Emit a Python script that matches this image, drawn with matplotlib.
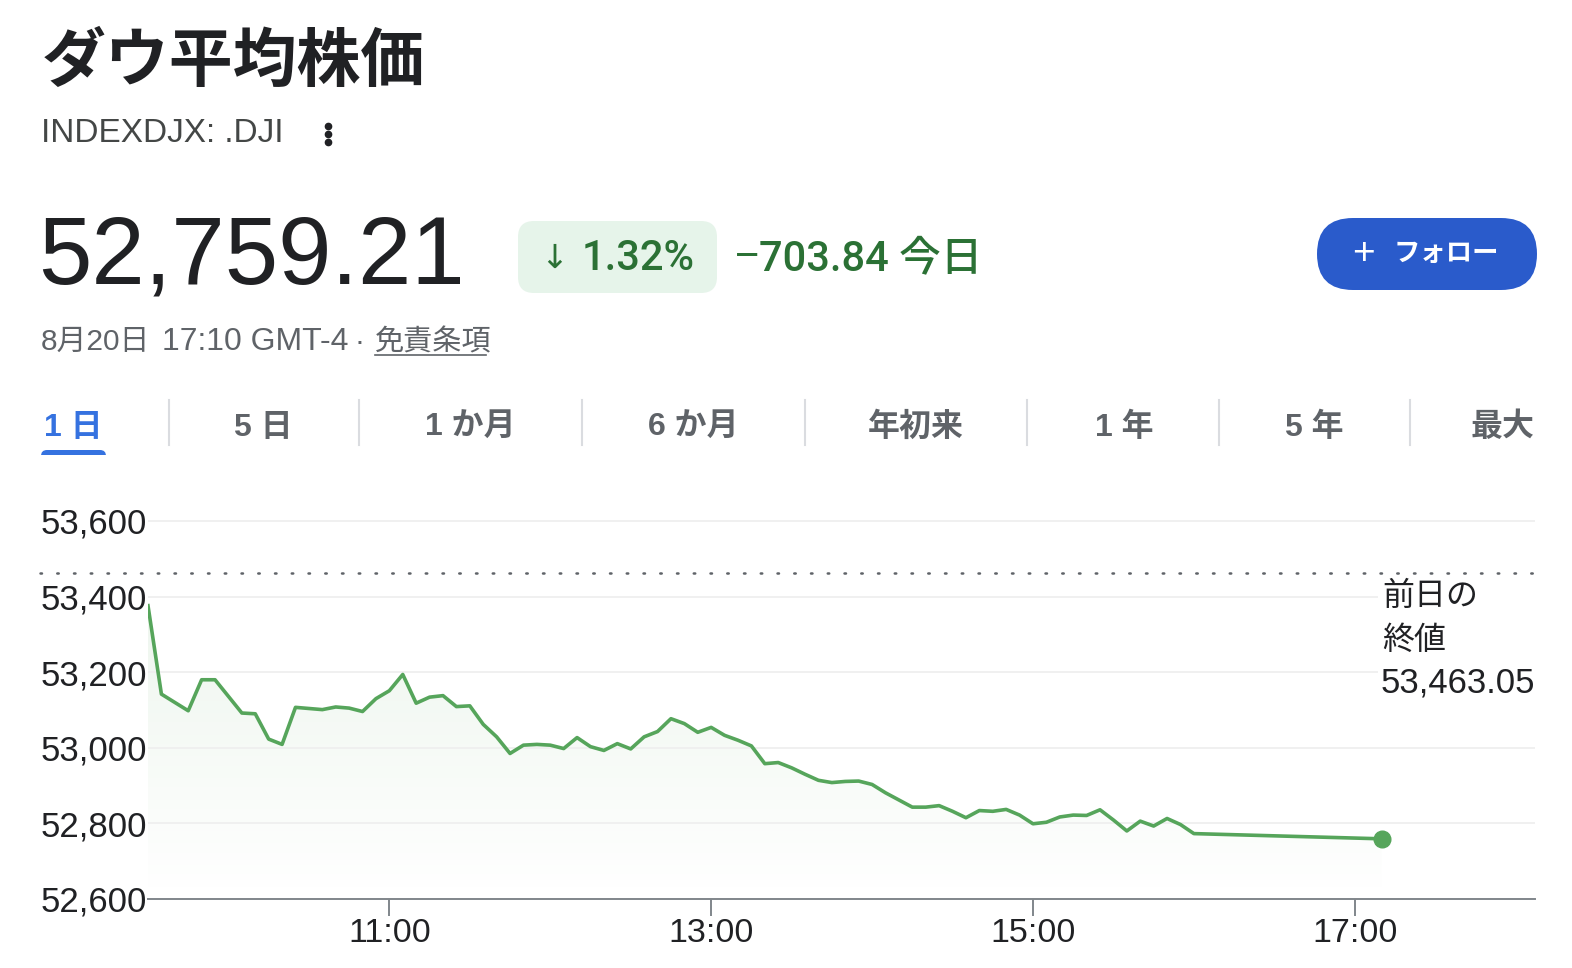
import matplotlib
matplotlib.use("Agg")
import matplotlib.pyplot as plt
import numpy as np
from matplotlib.patches import FancyBboxPatch, Rectangle

plt.rcParams['font.family'] = ['Liberation Sans', 'Noto Sans CJK JP', 'DejaVu Sans']

W, H = 1572, 968

# --- data (5 minute steps, last point after close) ---
times = ["09:30", "09:35", "09:40", "09:45", "09:50", "09:55",
         "10:00", "10:05", "10:10", "10:15", "10:20", "10:25",
         "10:30", "10:35", "10:40", "10:45", "10:50", "10:55",
         "11:00", "11:05", "11:10", "11:15", "11:20", "11:25",
         "11:30", "11:35", "11:40", "11:45", "11:50", "11:55",
         "12:00", "12:05", "12:10", "12:15", "12:20", "12:25",
         "12:30", "12:35", "12:40", "12:45", "12:50", "12:55",
         "13:00", "13:05", "13:10", "13:15", "13:20", "13:25",
         "13:30", "13:35", "13:40", "13:45", "13:50", "13:55",
         "14:00", "14:05", "14:10", "14:15", "14:20", "14:25",
         "14:30", "14:35", "14:40", "14:45", "14:50", "14:55",
         "15:00", "15:05", "15:10", "15:15", "15:20", "15:25",
         "15:30", "15:35", "15:40", "15:45", "15:50", "15:55",
         "16:00", "17:10"]
prices = [53376, 53142, 53120, 53098, 53180, 53180,
          53136, 53092, 53090, 53023, 53009, 53107,
          53104, 53101, 53108, 53105, 53096, 53130,
          53151, 53194, 53118, 53134, 53138, 53109,
          53111, 53062, 53029, 52985, 53007, 53009,
          53007, 52998, 53027, 53003, 52993, 53011,
          52997, 53029, 53043, 53077, 53064, 53041,
          53054, 53033, 53020, 53005, 52958, 52961,
          52947, 52930, 52914, 52908, 52911, 52912,
          52903, 52881, 52862, 52843, 52843, 52847,
          52832, 52815, 52834, 52832, 52837, 52822,
          52799, 52803, 52817, 52822, 52821, 52836,
          52809, 52780, 52806, 52793, 52813, 52797,
          52773, 52759.21]
prev_close = 53463.05
last_price = 52759.21
change = -703.84
change_pct = 1.32

yticks = [52600, 52800, 53000, 53200, 53400, 53600]
xticks = [11, 13, 15, 17]
xticklabels = ["11:00", "13:00", "15:00", "17:00"]
tabs = ["1 日", "5 日", "1 か月", "6 か月", "年初来", "1 年", "5 年", "最大"]

t = np.array([int(s[:2]) + int(s[3:]) / 60 for s in times])
p = np.array(prices)

fig = plt.figure(figsize=(W / 100, H / 100), dpi=100)

# chart axes placed in pixel units
ax_l, ax_r, ax_top, ax_bot = 148, 1535, 480, 899
ax = fig.add_axes([ax_l / W, 1 - ax_bot / H, (ax_r - ax_l) / W, (ax_bot - ax_top) / H], zorder=1)
ax.patch.set_alpha(0)

ymin, ymax = 52600, 52600 + (ax_bot - ax_top) / 0.378
xmin, xmax = 9.5, 18.12

# gradient fill under the line
fill = ax.fill_between(t, p, ymin, color='none', lw=0)
grad = np.zeros((100, 1, 4))
grad[:, 0, 0] = 0.34
grad[:, 0, 1] = 0.65
grad[:, 0, 2] = 0.36
grad[:, 0, 3] = np.linspace(0.0, 0.11, 100)
im = ax.imshow(grad, extent=[xmin, xmax, ymin, 53420], origin='lower', aspect='auto', zorder=1)
im.set_clip_path(fill.get_paths()[0], transform=ax.transData)

ax.plot(t, p, color='#56a55b', lw=2.6, zorder=3, solid_joinstyle='round')
ax.plot(t[-1], p[-1], 'o', color='#56a55b', ms=12, zorder=4)

ax.set_xlim(xmin, xmax)
ax.set_ylim(ymin, ymax)
ax.set_yticks(yticks)
ax.set_yticklabels([f"{v:,}" for v in yticks])
ax.set_xticks(xticks)
ax.set_xticklabels(xticklabels)
ax.grid(axis='y', color='#efefef', lw=1.3, zorder=0)
for s in ['top', 'right', 'left']:
    ax.spines[s].set_visible(False)
ax.spines['bottom'].set_color('#80868b')
ax.spines['bottom'].set_linewidth(1.4)
ax.tick_params(axis='y', length=0, pad=1, labelsize=25, labelcolor='#202124')
ax.tick_params(axis='x', length=12, width=1.4, color='#80868b', pad=2,
               labelsize=24.5, labelcolor='#202124')

# overlay in pixel coordinates for header, tabs, labels
ov = fig.add_axes([0, 0, 1, 1], zorder=5)
ov.set_xlim(0, W)
ov.set_ylim(H, 0)
ov.axis('off')
ov.patch.set_alpha(0)

ov.text(42, 62, "ダウ平均株価", fontsize=46, fontweight='bold', color='#202124',
        va='center', family=['Noto Sans CJK JP'])
ov.text(41, 133, "INDEXDJX: .DJI", fontsize=24, color='#444746', va='center')
for dy in (-8, 0, 8):
    ov.plot(328, 134 + dy, 'o', color='#202124', ms=4.5)

ov.text(38, 259, f"{last_price:,.2f}", fontsize=69, color='#202124', va='center')

ov.add_patch(FancyBboxPatch((518, 221), 199, 72, boxstyle="round,pad=0,rounding_size=16",
                            fc='#e6f4ea', ec='none'))
green = '#2b7135'
gfam = ['Roboto', 'Liberation Sans', 'Noto Sans CJK JP']
ov.text(554, 258, "↓", fontsize=24, color=green, va='center', ha='center',
        family=['DejaVu Sans'])
ov.text(582, 259, f"{change_pct:.2f}%", fontsize=30, color=green, va='center',
        family=gfam, fontweight='medium')
ov.text(735, 257, "−", fontsize=30, color=green, va='center')
ov.text(759, 259, f"{abs(change):.2f} 今日", fontsize=30, color=green, va='center',
        family=gfam, fontweight='medium')

ov.add_patch(FancyBboxPatch((1317, 218), 220, 72, boxstyle="round,pad=0,rounding_size=36",
                            fc='#2a5bcb', ec='none'))
ov.text(1363, 254, "+", fontsize=28, color='white', va='center', ha='center')
ov.text(1446, 254, "フォロー", fontsize=19, color='white', va='center', ha='center',
        fontweight='bold')

ov.text(41, 342, "8月20日", fontsize=21.5, color='#5f6368', va='center')
ov.text(162, 342, "17:10 GMT-4", fontsize=23, color='#5f6368', va='center')
ov.text(359, 342, "·", fontsize=21.5, color='#5f6368', va='center', ha='center')
ov.text(375, 342, "免責条項", fontsize=21, color='#5f6368', va='center')
ov.plot([375, 486], [355, 355], color='#5f6368', lw=1.2)

# tabs
tab_x = [73, 263, 470, 693, 916, 1124, 1314, 1503]
for i, (lab, x) in enumerate(zip(tabs, tab_x)):
    ov.text(x, 428, lab, fontsize=23, ha='center', va='center',
            color='#3572e0' if i == 0 else '#5f6368', fontweight='bold')
for x in [169, 359, 582, 805, 1027, 1219, 1410]:
    ov.plot([x, x], [400, 445], color='#dadce0', lw=1.5)
ov.add_patch(FancyBboxPatch((41, 450), 65, 10, boxstyle="round,pad=0,rounding_size=6",
                            fc='#3572e0', ec='none'))
ov.add_patch(Rectangle((41, 455), 65, 6, fc='white', ec='none'))

# previous close line and label
y_prev = ax_bot - (prev_close - ymin) * 0.378
ov.plot([40, ax_r], [y_prev, y_prev], color='#5f6368', lw=1.8,
        linestyle=(0, (0.6, 6.1)), dash_capstyle='round')
ov.add_patch(Rectangle((1378, 580), 170, 118, fc='white', ec='none'))
ov.text(1382, 597, "前日の", fontsize=23, color='#202124', va='center')
ov.text(1382, 641, "終値", fontsize=23, color='#202124', va='center')
ov.text(1381, 683, f"{prev_close:,.2f}", fontsize=25, color='#202124', va='center')

fig.savefig("out.png", dpi=100, facecolor='white')
